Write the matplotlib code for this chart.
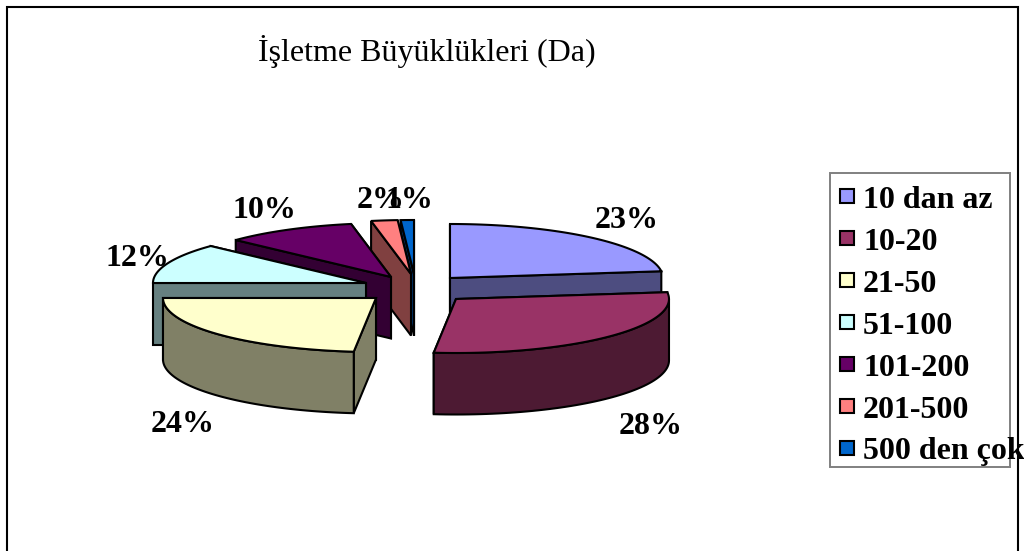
import numpy as np
import matplotlib
matplotlib.use("Agg")
import matplotlib.pyplot as plt
from matplotlib.patches import Polygon, Rectangle

plt.rcParams['font.family'] = ['Liberation Serif', 'DejaVu Serif']

title = "İşletme Büyüklükleri (Da)"
categories = ["10 dan az", "10-20", "21-50", "51-100", "101-200", "201-500", "500 den çok"]
shares = [23, 28, 24, 12, 10, 2, 1]

top_colors = ["#9999FF", "#993366", "#FFFFCC", "#CCFFFF", "#660066", "#FF8080", "#0066CC"]
wall_colors = ["#4D4D80", "#4D1A33", "#808066", "#668080", "#330033", "#804040", "#003366"]

# where each exploded slice has its tip, in pixels
tips = [(450, 278), (456, 299), (376, 298), (366, 283), (391, 277), (411, 274), (414, 274)]
label_pos = [(627, 217), (651, 423), (183, 421), (137, 255), (264, 207), (381, 198), (409, 198)]

rx = 213
ry = 54
depth = 61.5
paint_order = [6, 5, 4, 3, 0, 2, 1]

fig = plt.figure(figsize=(10.24, 5.51), dpi=100)
ax = fig.add_axes([0, 0, 1, 1])
ax.set_xlim(0, 1024)
ax.set_ylim(551, 0)
ax.axis("off")

ax.plot([7, 7, 1018, 1018], [551, 6.5, 6.5, 551], color="black", lw=1.5,
        solid_joinstyle="miter", zorder=1)

edges = np.cumsum([0] + shares) * 3.6


def rim(tip, a0, a1, n=60):
    t = np.radians(np.linspace(a0, a1, n))
    # the near half of the pie looks a bit wider in the 3d view
    t = t + np.radians(2.4) * np.maximum(0, -np.cos(t))
    return np.column_stack([tip[0] + rx * np.sin(t), tip[1] - ry * np.cos(t)])


def radial_face(tip, angle, color, z):
    p = rim(tip, angle, angle, 1)[0]
    pts = [tip, p, (p[0], p[1] + depth), (tip[0], tip[1] + depth)]
    ax.add_patch(Polygon(pts, closed=True, fc=color, ec="black", lw=1.5, zorder=z))


for z, i in enumerate(paint_order):
    a0, a1 = edges[i], edges[i + 1]
    tip = tips[i]
    base = 2 + z
    faces = [a0, a1] if (a0 + a1) / 2 < 180 else [a1, a0]
    for a in faces:
        radial_face(tip, a, wall_colors[i], base)
    lo, hi = max(a0, 90), min(a1, 270)
    if lo < hi:
        arc = rim(tip, lo, hi)
        wall = np.vstack([arc, (arc + [0, depth])[::-1]])
        ax.add_patch(Polygon(wall, closed=True, fc=wall_colors[i], ec="black", lw=1.5, zorder=base))
    top = np.vstack([[tip], rim(tip, a0, a1)])
    ax.add_patch(Polygon(top, closed=True, fc=top_colors[i], ec="black", lw=1.5, zorder=base))

for share, (x, y) in zip(shares, label_pos):
    ax.text(x, y + 3, f"{share}%", fontsize=23, fontweight="bold", ha="center", va="center", zorder=30)

ax.text(427, 51, title, fontsize=23, ha="center", va="center", zorder=30)

# legend
ax.add_patch(Rectangle((830, 173), 180, 294, fc="none", ec="#808080", lw=1.4, zorder=20))
for k, name in enumerate(categories):
    y = 196 + 42 * k
    ax.add_patch(Rectangle((839.5, y - 7), 14, 14, fc=top_colors[k], ec="black", lw=1.5, zorder=21))
    ax.text(863, y + 4, name, fontsize=23, fontweight="bold", ha="left", va="center", zorder=30,
            clip_on=False)

fig.savefig("out.png", dpi=100)
